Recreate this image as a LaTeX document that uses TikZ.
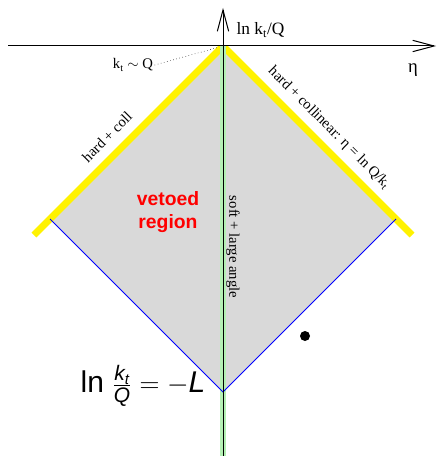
\documentclass[tikz,border=0pt]{standalone}
\usepackage{amsmath}
\usepackage{fontspec}
\setmainfont{Liberation Serif}
\setsansfont{Liberation Sans}
\usepackage{tikz}
\usetikzlibrary{positioning,arrows.meta}
\definecolor{vetogray}{RGB}{217,217,217}
\definecolor{softgreen}{RGB}{180,240,180}
\tikzset{
  axis/.style={line width=0.75pt, -{Straight Barb[length=16pt,width=8.5pt,line width=0.75pt]}},
  hardline/.style={line width=5.25pt, draw=yellow},
  boundary/.style={line width=0.75pt, draw=blue},
  softband/.style={line width=4pt, draw=softgreen},
  lbl/.style={font=\fontsize{11}{13}\selectfont, inner sep=1pt},
  axlbl/.style={font=\fontsize{13}{15}\selectfont, inner sep=1pt},
  veto/.style={font=\fontsize{14.5}{17.25}\selectfont\sffamily\bfseries, text=red, align=center},
  limit/.style={font=\fontsize{22.5}{26}\selectfont\sffamily},
}
\newcommand{\sfi}[1]{\text{\sffamily\itshape #1}}

\begin{document}
\begin{tikzpicture}[x=0.75pt, y=-0.75pt]
\useasboundingbox (0,0) rectangle (437,456);
\coordinate (top) at (223,46);
\coordinate (lc) at (50,219);
\coordinate (rc) at (396,219);
\coordinate (bot) at (223,392);
\coordinate (lend) at (34,235);
\coordinate (rend) at (412,235);
\coordinate (xl) at (8,46);
\coordinate (xr) at (436,46);
\coordinate (yb) at (223,456);
\coordinate (yt) at (223,8);
\fill[vetogray] (top) -- (rc) -- (bot) -- (lc) -- cycle;
\begin{scope}
\clip (0,46) rectangle (437,456);
\draw[hardline] (lend) -- (top) -- (rend);
\end{scope}
\draw[softband] (top) -- (yb);
\draw[boundary] (lc) -- (bot) -- (rc);
\draw[axis] (xl) -- (xr);
\draw[axis] (yb) -- (yt);
\node[axlbl, anchor=west] (ylab) at (235,30) {ln k$_\text{t}$/Q};
\node[axlbl, font=\fontsize{14}{16}\selectfont] (eta) at (413,70) {η};
\node[lbl] (ktq) at (133,65) {k$_\text{t}$ $\sim$ Q};
\draw[dotted, shorten >=4pt] (ktq.east) -- (top);
\node[lbl, rotate=45] (coll) at (107,137) {hard + coll};
\node[lbl, rotate=-45] (hcoll) at (329,128) {hard + collinear: η = ln Q/k$_\text{t}$};
\node[lbl, rotate=-90] (soft) at (233,247) {soft + large angle};
\node[veto] (veto) at (168,212) {vetoed\\region};
\node[circle, fill, inner sep=0pt, minimum size=7.5pt] (emis) at (305,336) {};
\node[limit] (cut) at (143,386) {ln $\frac{\sfi{k}_{\sfi{t}}}{\sfi{Q}} = -\sfi{L}$};
\end{tikzpicture}
\end{document}
